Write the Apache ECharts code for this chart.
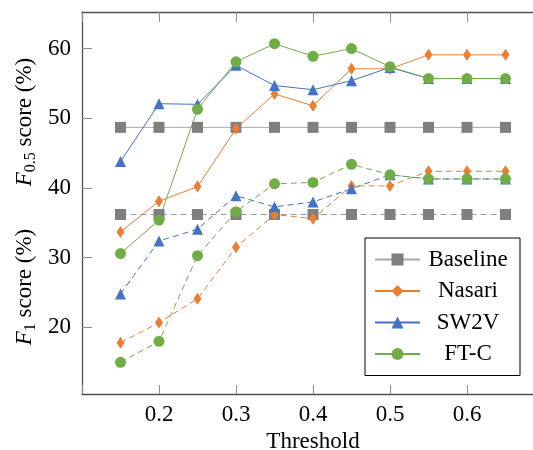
<!DOCTYPE html>
<html>
<head>
<meta charset="utf-8">
<script src="https://cdn.jsdelivr.net/npm/echarts@6/dist/echarts.min.js"></script>
<style>
html,body{margin:0;padding:0;background:#fff;}
#chart{width:533px;height:450px;}
</style>
</head>
<body>
<div id="chart"></div>
<script>
const thresholds = [0.15, 0.2, 0.25, 0.3, 0.35, 0.4, 0.45, 0.5, 0.55, 0.6, 0.65];
const xTickLabels = ['0.2', '0.3', '0.4', '0.5', '0.6'];
const yTickLabels = ['20', '30', '40', '50', '60'];

// F0.5 scores (solid lines)
const baselineF05 = [48.7, 48.7, 48.7, 48.7, 48.7, 48.7, 48.7, 48.7, 48.7, 48.7, 48.7];
const nasariF05   = [33.7, 38.1, 40.2, 48.5, 53.5, 51.8, 57.1, 57.1, 59.1, 59.1, 59.1];
const sw2vF05     = [43.8, 52.1, 52.0, 57.6, 54.7, 54.1, 55.4, 57.3, 55.7, 55.7, 55.7];
const ftcF05      = [30.6, 35.4, 51.3, 58.1, 60.7, 58.9, 60.0, 57.4, 55.7, 55.7, 55.7];

// F1 scores (dashed lines)
const baselineF1 = [36.2, 36.2, 36.2, 36.2, 36.2, 36.2, 36.2, 36.2, 36.2, 36.2, 36.2];
const nasariF1   = [17.8, 20.7, 24.1, 31.5, 36.2, 35.6, 40.3, 40.3, 42.4, 42.4, 42.4];
const sw2vF1     = [24.8, 32.4, 34.1, 38.9, 37.3, 38.0, 39.9, 41.9, 41.3, 41.3, 41.3];
const ftcF1      = [15.0, 18.0, 30.3, 36.6, 40.6, 40.8, 43.4, 41.9, 41.3, 41.3, 41.3];

const names = ['Baseline', 'Nasari', 'SW2V', 'FT-C'];

const pair = arr => thresholds.map((t, i) => [t, arr[i]]);

const styles = {
  'Baseline': {color: '#7f7f7f', line: '#a8a8a8', dash: '#999999', symbol: 'rect', size: 11},
  'Nasari':   {color: '#ed7d31', line: '#ed7d31', dash: '#ed7d31', symbol: 'diamond', size: [8, 12]},
  'SW2V':     {color: '#4472c4', line: '#4472c4', dash: '#4472c4', symbol: 'triangle', size: 11},
  'FT-C':     {color: '#70ad47', line: '#70ad47', dash: '#70ad47', symbol: 'circle', size: 11}
};

const FONT = '"Liberation Serif", "Times New Roman", serif';

function mk(name, data, dashed) {
  const s = styles[name];
  return {
    name: name,
    type: 'line',
    data: pair(data),
    symbol: s.symbol,
    symbolSize: s.size,
    showAllSymbol: true,
    animation: false,
    itemStyle: {color: s.color, borderWidth: 0},
    lineStyle: {color: dashed ? s.dash : s.line, width: 1, type: dashed ? [6, 4] : 'solid'},
    emphasis: {disabled: true}
  };
}

const series = [
  mk('Baseline', baselineF05, false),
  mk('Baseline', baselineF1, true),
  mk('Nasari', nasariF05, false),
  mk('Nasari', nasariF1, true),
  mk('SW2V', sw2vF05, false),
  mk('SW2V', sw2vF1, true),
  mk('FT-C', ftcF05, false),
  mk('FT-C', ftcF1, true)
];

const chart = echarts.init(document.getElementById('chart'), null, {renderer: 'canvas'});

const axisLineStyle = {color: '#505050', width: 1.3};
const tickStyle = {color: '#8c8c8c', width: 1};

chart.setOption({
  backgroundColor: '#fff',
  animation: false,
  textStyle: {fontFamily: FONT},
  grid: {left: 82, top: 12, width: 462, height: 382, containLabel: false, outerBoundsMode: 'none'},
  xAxis: [{
    type: 'value',
    min: 0.1,
    max: 0.7,
    interval: 0.1,
    position: 'bottom',
    axisLine: {show: true, lineStyle: axisLineStyle},
    axisTick: {show: true, inside: true, length: 9, lineStyle: tickStyle},
    splitLine: {show: false},
    axisLabel: {
      margin: 9,
      color: '#000',
      fontFamily: FONT,
      fontSize: 23,
      formatter: v => {
        const s = (Math.round(v * 10) / 10).toFixed(1);
        return xTickLabels.indexOf(s) >= 0 ? s : '';
      }
    },
    name: 'Threshold',
    nameLocation: 'middle',
    nameGap: 34,
    nameTextStyle: {color: '#000', fontFamily: FONT, fontSize: 23}
  }, {
    type: 'value',
    min: 0.1,
    max: 0.7,
    interval: 0.1,
    position: 'top',
    axisLine: {show: true, lineStyle: axisLineStyle},
    axisTick: {show: true, inside: true, length: 10, lineStyle: tickStyle},
    splitLine: {show: false},
    axisLabel: {show: false}
  }],
  yAxis: [{
    type: 'value',
    min: 10.45,
    max: 65.25,
    axisLine: {show: true, lineStyle: axisLineStyle},
    axisTick: {show: true, inside: true, length: 10, lineStyle: tickStyle},
    splitLine: {show: false},
    axisLabel: {
      margin: 11,
      color: '#000',
      fontFamily: FONT,
      fontSize: 23,
      showMinLabel: false,
      showMaxLabel: false,
      formatter: v => {
        const s = String(Math.round(v));
        return (Math.abs(v - Math.round(v)) < 1e-6 && yTickLabels.indexOf(s) >= 0) ? s : '';
      }
    }
  }],
  legend: {
    data: names,
    orient: 'vertical',
    left: 365,
    top: 238,
    itemWidth: 45,
    itemHeight: 15,
    itemGap: 8.5,
    padding: [10, 9, 10, 9],
    borderColor: '#000',
    borderWidth: 1,
    borderRadius: 0,
    backgroundColor: '#fff',
    selectedMode: false,
    formatter: '{a|{name}}',
    textStyle: {
      color: '#000',
      fontFamily: FONT,
      fontSize: 23,
      rich: {
        a: {width: 86, align: 'center', fontFamily: FONT, fontSize: 23, color: '#000', lineHeight: 23}
      }
    }
  },
  graphic: [{
    type: 'text',
    x: 25,
    y: 122,
    rotation: Math.PI / 2,
    style: {
      text: '{f|F}{s|0.5}{t| score (%)}',
      align: 'center',
      verticalAlign: 'middle',
      rich: {
        f: {fontFamily: FONT, fontStyle: 'italic', fontSize: 23, lineHeight: 28, fill: '#000', color: '#000'},
        s: {fontFamily: FONT, fontSize: 16, lineHeight: 16, verticalAlign: 'bottom', fill: '#000', color: '#000'},
        t: {fontFamily: FONT, fontSize: 23, lineHeight: 28, fill: '#000', color: '#000'}
      }
    }
  }, {
    type: 'text',
    x: 25,
    y: 287,
    rotation: Math.PI / 2,
    style: {
      text: '{f|F}{s|1}{t| score (%)}',
      align: 'center',
      verticalAlign: 'middle',
      rich: {
        f: {fontFamily: FONT, fontStyle: 'italic', fontSize: 23, lineHeight: 28, fill: '#000', color: '#000'},
        s: {fontFamily: FONT, fontSize: 16, lineHeight: 16, verticalAlign: 'bottom', fill: '#000', color: '#000'},
        t: {fontFamily: FONT, fontSize: 23, lineHeight: 28, fill: '#000', color: '#000'}
      }
    }
  }],
  series: series
});
</script>
</body>
</html>
